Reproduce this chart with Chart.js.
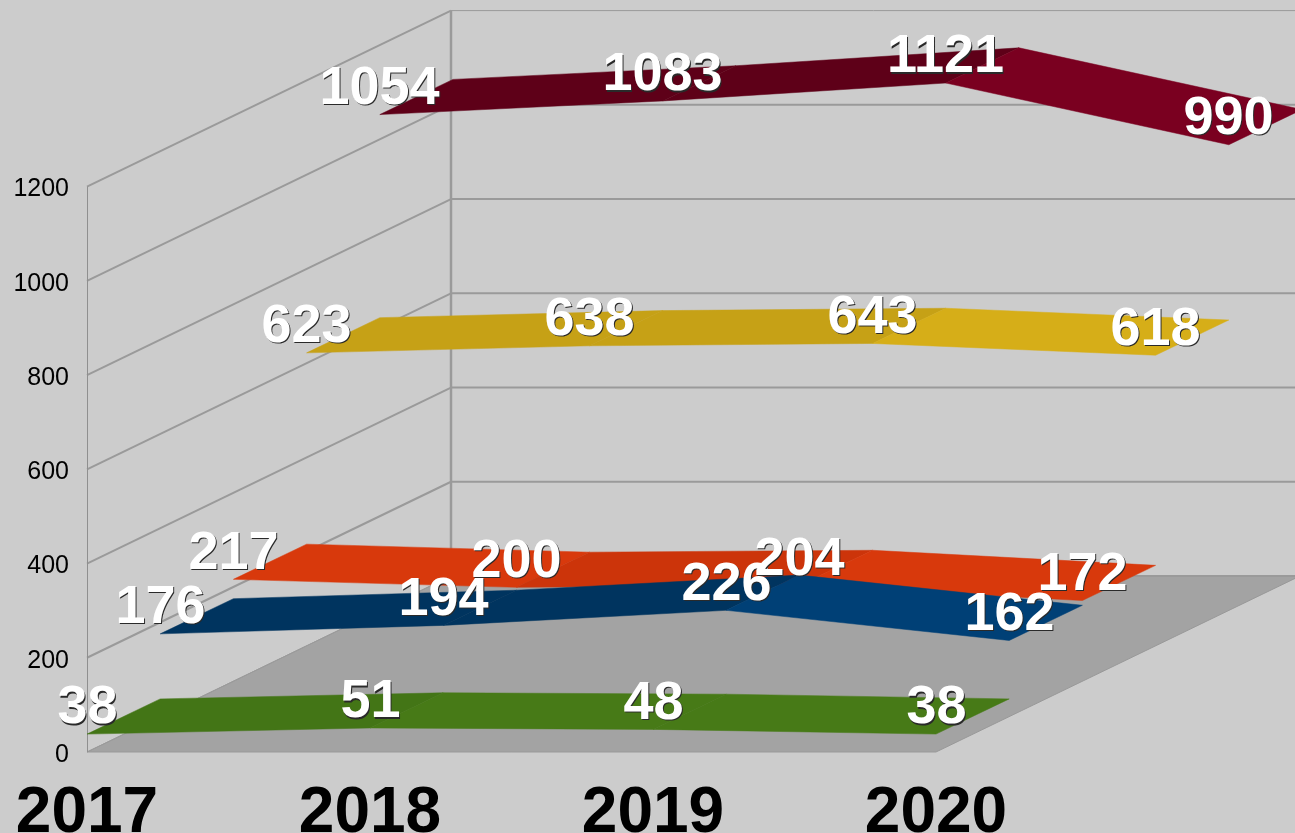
<!DOCTYPE html>
<html><head><meta charset="utf-8">
<style>html,body{margin:0;padding:0;background:#cccccc;overflow:hidden}canvas{display:block}</style>
<script src="https://cdn.jsdelivr.net/npm/chart.js@4/dist/chart.umd.min.js"></script>
</head><body><canvas id="c" width="1295" height="833"></canvas>
<script>
const categories = ['2017','2018','2019','2020'];
const yTicks = [0,200,400,600,800,1000,1200];
const seriesFront = [38,51,48,38];
const seriesSecond = [176,194,226,162];
const seriesThird = [217,200,204,172];
const seriesFourth = [623,638,643,618];
const seriesBack = [1054,1083,1121,990];

const DEPTH_X = 73.2, DEPTH_Y = -35.2, WALL_X = 364, WALL_Y = -176;
const FONT = '"Liberation Sans", Arial, sans-serif';

class Ribbon3D extends Chart.LineController {
  draw() {
    const meta = this.getMeta(), ctx = this.chart.ctx, ds = this.getDataset();
    const pts = meta.data, r = ds.row;
    ctx.save();
    for (let i = 0; i < pts.length - 1; i++) {
      const a = pts[i], b = pts[i+1];
      const up = ds.data[i+1] > ds.data[i];
      const col = up ? ds.darkColor : ds.lightColor;
      const ox = r*DEPTH_X, oy = r*DEPTH_Y;
      ctx.beginPath();
      ctx.moveTo(a.x+ox, a.y+oy);
      ctx.lineTo(b.x+ox, b.y+oy);
      ctx.lineTo(b.x+ox+DEPTH_X, b.y+oy+DEPTH_Y);
      ctx.lineTo(a.x+ox+DEPTH_X, a.y+oy+DEPTH_Y);
      ctx.closePath();
      ctx.fillStyle = col;
      ctx.fill();
      ctx.lineWidth = 0.5; ctx.strokeStyle = col; ctx.stroke();
    }
    ctx.restore();
  }
}
Ribbon3D.id = 'ribbon3d';
Ribbon3D.defaults = Chart.LineController.defaults;
Chart.register(Ribbon3D);

const walls = {
  id: 'walls',
  beforeDraw(chart) {
    const {chartArea, scales:{y}} = chart;
    y.getLabelItems(chartArea).forEach(it => {
      if (!it.shifted) { it.options.translation[1] += 3; it.shifted = true; }
    });
  },
  beforeDatasetsDraw(chart) {
    const {ctx, scales:{x,y}} = chart;
    const L = x.left, R = x.right, B = y.bottom;
    const dx = WALL_X, dy = WALL_Y;
    ctx.save();
    ctx.beginPath();
    ctx.moveTo(L,B); ctx.lineTo(R,B); ctx.lineTo(R+dx,B+dy); ctx.lineTo(L+dx,B+dy); ctx.closePath();
    ctx.fillStyle = '#a3a3a3'; ctx.fill();
    ctx.strokeStyle = '#999999'; ctx.lineWidth = 1;
    ctx.stroke();
    ctx.strokeStyle = '#9a9a9a';
    y.ticks.forEach(t => {
      const p = y.getPixelForValue(t.value);
      ctx.beginPath();
      ctx.moveTo(L,p); ctx.lineTo(L+dx,p+dy);
      ctx.lineWidth = t.value === 0 ? 1 : 2;
      ctx.stroke();
      ctx.beginPath();
      ctx.moveTo(L+dx,p+dy); ctx.lineTo(R+dx,p+dy);
      ctx.lineWidth = t.value === 1200 ? 1 : 2;
      ctx.stroke();
    });
    const top = y.getPixelForValue(1200);
    ctx.beginPath(); ctx.moveTo(L+dx,top+dy); ctx.lineTo(L+dx,B+dy);
    ctx.lineWidth = 2.5; ctx.stroke();
    ctx.beginPath(); ctx.moveTo(L+0.5,top); ctx.lineTo(L+0.5,B);
    ctx.lineWidth = 1; ctx.strokeStyle = '#8f8f8f'; ctx.stroke();
    ctx.restore();
  }
};

const labels3d = {
  id: 'labels3d',
  afterDatasetsDraw(chart) {
    const ctx = chart.ctx;
    ctx.save();
    ctx.font = 'bold 54px ' + FONT;
    ctx.textAlign = 'center'; ctx.textBaseline = 'middle';
    chart.data.datasets.forEach((ds, k) => {
      const meta = chart.getDatasetMeta(k);
      meta.data.forEach((pt, i) => {
        const px = pt.x + ds.row*73 + 0.5, py = pt.y + ds.row*DEPTH_Y - 25.5;
        ctx.fillStyle = '#2a2a2a';
        ctx.fillText(String(ds.data[i]), px+1, py+1.2);
        ctx.fillStyle = '#ffffff';
        ctx.fillText(String(ds.data[i]), px, py);
      });
    });
    ctx.restore();
  }
};

new Chart(document.getElementById('c'), {
  type: 'ribbon3d',
  plugins: [walls, labels3d],
  data: {
    labels: categories,
    datasets: [
      {label:'A', data:seriesFront, row:0, darkColor:'#437516', lightColor:'#477a17', clip:false},
      {label:'B', data:seriesSecond, row:1, darkColor:'#00345f', lightColor:'#004076', clip:false},
      {label:'C', data:seriesThird, row:2, darkColor:'#cc340a', lightColor:'#d8390c', clip:false},
      {label:'D', data:seriesFourth, row:3, darkColor:'#c6a116', lightColor:'#d6ae18', clip:false},
      {label:'E', data:seriesBack, row:4, darkColor:'#5e0018', lightColor:'#7a0020', clip:false}
    ]
  },
  options: {
    responsive:false, animation:false, devicePixelRatio:1,
    layout:{padding:{left:0,right:359,top:186.6,bottom:0}},
    plugins:{legend:{display:false},title:{display:false},tooltip:{enabled:false}},
    scales:{
      x:{type:'category', offset:false, grid:{display:false}, border:{display:false},
         afterFit(s){s.height=81;s.paddingLeft=0;s.paddingRight=0;},
         ticks:{color:'#000',font:{family:FONT,size:64,weight:'bold'},padding:16,maxRotation:0,autoSkip:false}},
      y:{type:'linear', min:0, max:1200, grid:{display:false}, border:{display:false},
         afterFit(s){s.width=87;},
         afterBuildTicks(s){s.ticks = yTicks.map(v=>({value:v}));},
         ticks:{color:'#000',font:{family:FONT,size:25},padding:10,callback:v=>String(v)}}
    }
  }
});
</script></body></html>
